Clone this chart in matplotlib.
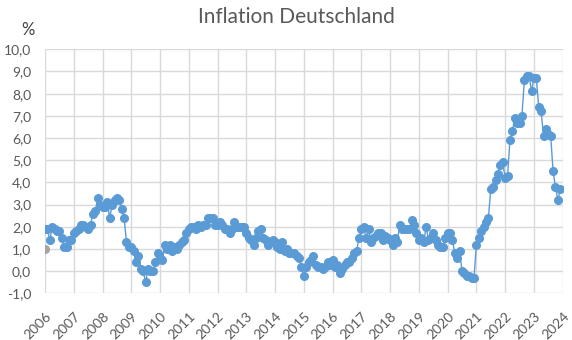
import matplotlib.pyplot as plt
import matplotlib.ticker as mticker

# Monatliche Inflationsraten (Jan 2006 - Dez 2023)
jahre = list(range(2006, 2024))
raten = {
    2006: [1.9, 1.9, 1.4, 2.0, 1.9, 1.8, 1.8, 1.5, 1.1, 1.1, 1.4, 1.4],
    2007: [1.7, 1.8, 1.9, 2.1, 2.1, 2.0, 1.9, 2.1, 2.6, 2.7, 3.3, 3.0],
    2008: [2.9, 2.9, 3.1, 2.4, 3.0, 3.2, 3.3, 3.2, 2.8, 2.4, 1.3, 1.1],
    2009: [1.1, 0.9, 0.4, 0.7, 0.1, 0.0, -0.5, 0.1, 0.0, 0.0, 0.4, 0.8],
    2010: [0.6, 0.5, 1.2, 1.0, 1.2, 0.9, 1.1, 1.0, 1.2, 1.3, 1.4, 1.7],
    2011: [1.9, 2.0, 2.0, 1.9, 2.1, 2.0, 2.1, 2.1, 2.4, 2.4, 2.4, 2.1],
    2012: [2.1, 2.2, 2.1, 1.9, 1.9, 1.7, 1.9, 2.2, 2.0, 2.0, 2.0, 2.0],
    2013: [1.7, 1.5, 1.4, 1.2, 1.5, 1.8, 1.9, 1.5, 1.4, 1.2, 1.3, 1.4],
    2014: [1.3, 1.1, 1.0, 1.3, 0.9, 1.0, 0.8, 0.8, 0.8, 0.7, 0.6, 0.2],
    2015: [-0.2, 0.2, 0.4, 0.5, 0.7, 0.3, 0.2, 0.2, 0.1, 0.2, 0.4, 0.3],
    2016: [0.5, 0.2, 0.3, -0.1, 0.1, 0.3, 0.4, 0.4, 0.6, 0.8, 0.9, 1.5],
    2017: [1.9, 2.0, 1.5, 1.9, 1.3, 1.5, 1.6, 1.7, 1.7, 1.4, 1.6, 1.5],
    2018: [1.4, 1.2, 1.5, 1.3, 2.1, 1.9, 1.9, 1.9, 1.9, 2.3, 2.1, 1.7],
    2019: [1.4, 1.5, 1.3, 2.0, 1.4, 1.5, 1.7, 1.4, 1.2, 1.1, 1.1, 1.5],
    2020: [1.7, 1.7, 1.4, 0.8, 0.6, 0.9, 0.0, -0.1, -0.2, -0.2, -0.3, -0.3],
    2021: [1.2, 1.5, 1.8, 2.0, 2.2, 2.4, 3.7, 3.8, 4.1, 4.4, 4.8, 4.9],
    2022: [4.2, 4.3, 5.9, 6.3, 6.9, 6.7, 6.7, 7.0, 8.6, 8.8, 8.8, 8.1],
    2023: [8.7, 8.7, 7.4, 7.2, 6.1, 6.4, 6.2, 6.1, 4.5, 3.8, 3.2, 3.7],
}
start_wert = 1.0  # grauer Punkt am Anfang

x = []
y = []
for j in jahre:
    for m, v in enumerate(raten[j]):
        x.append(j + m / 12)
        y.append(v)

plt.rcParams['font.family'] = ['Lato', 'DejaVu Sans']
grau = '#595959'

fig = plt.figure(figsize=(5.72, 3.4), dpi=100)
ax = fig.add_axes([0.0787, 0.137, 0.905, 0.718])

ax.plot(x, y, color='#5b9bd5', linewidth=1, marker='o', markersize=5.5, zorder=3)
ax.plot([2006], [start_wert], linestyle='none', marker='o', markersize=5.5,
        color='#a5a5a5', zorder=4)

ax.set_xlim(2006, 2024)
ax.set_ylim(-1, 10)
ax.set_xticks(range(2006, 2025))
ax.set_yticks(range(-1, 11))
ax.yaxis.set_major_formatter(mticker.FuncFormatter(lambda v, p: f'{v:.1f}'.replace('.', ',')))
ax.grid(True, color='#d9d9d9', linewidth=1)
ax.set_axisbelow(True)
for s in ax.spines.values():
    s.set_visible(False)
ax.tick_params(length=0, colors=grau, labelsize=10)
ax.tick_params(axis='y', pad=10)
ax.tick_params(axis='x', pad=12)
plt.setp(ax.get_xticklabels(), rotation=45, ha='right', rotation_mode='anchor')

fig.text(0.518, 0.95, 'Inflation Deutschland', ha='center', va='center', fontsize=15, color=grau)
fig.text(0.049, 0.912, '%', ha='center', va='center', fontsize=12, color='#404040')

fig.savefig('out.png', dpi=100)
